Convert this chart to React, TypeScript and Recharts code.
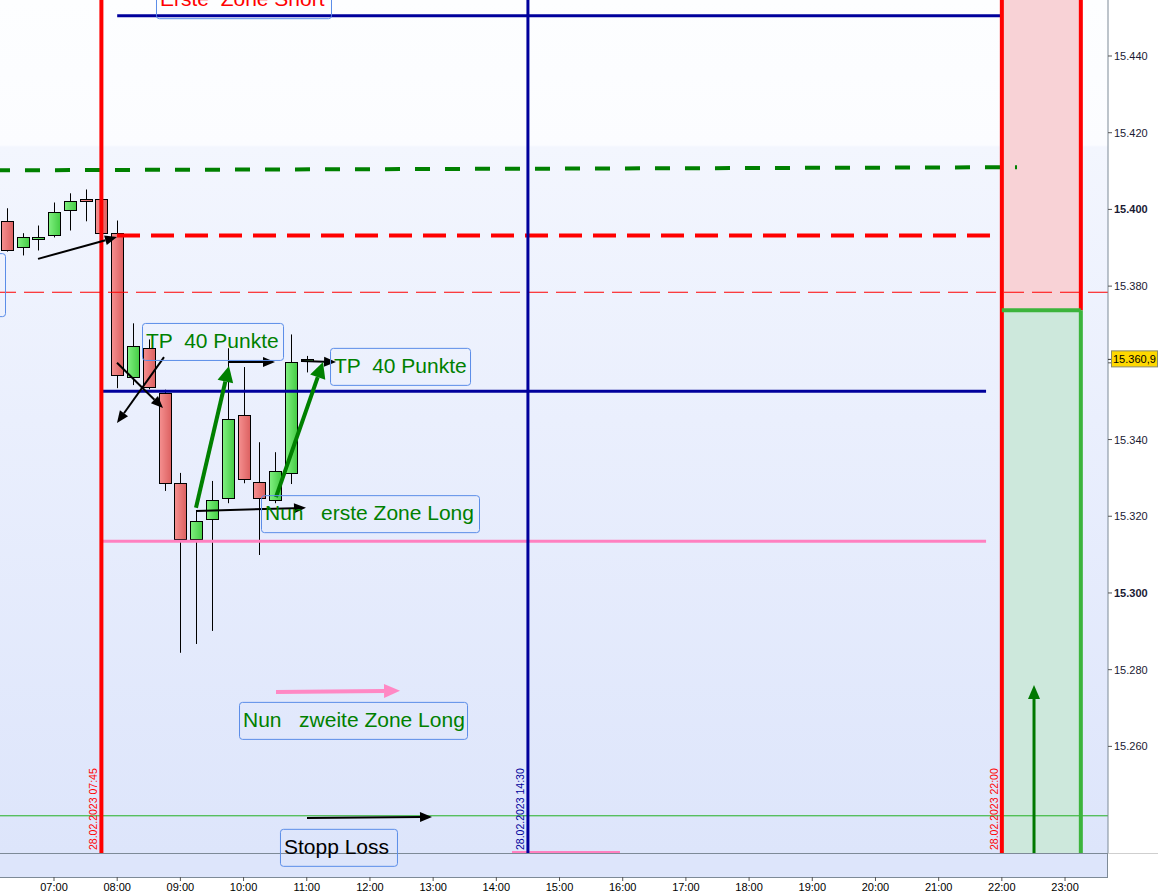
import React from 'react'
import {
  ComposedChart,
  Bar,
  XAxis,
  YAxis,
  ReferenceLine,
  ReferenceArea,
  ReferenceDot,
} from 'recharts'

const hm = (s: string) => {
  const [h, m] = s.split(':').map(Number)
  return h + m / 60
}

// DAX 15-min candles, 28.02.2023
const candleTimes = [
  '06:15', '06:30', '06:45', '07:00', '07:15', '07:30', '07:45', '08:00', '08:15', '08:30',
  '08:45', '09:00', '09:15', '09:30', '09:45', '10:00', '10:15', '10:30', '10:45', '11:00',
]
const opens = [
  15397.1, 15390.1, 15392.2, 15393.2, 15399.7, 15402.6, 15402.6, 15393.8, 15356.3, 15363.8,
  15352.1, 15328.6, 15314.1, 15319.3, 15324.7, 15346.4, 15328.9, 15324.2, 15331.3, 15360.5,
]
const highs = [
  15400.3, 15393.8, 15395.8, 15401.8, 15404.2, 15405.2, 15403.0, 15397.1, 15370.3, 15366.1,
  15353.0, 15331.3, 15321.6, 15329.2, 15363.8, 15358.9, 15339.3, 15336.7, 15367.4, 15361.8,
]
const lows = [
  15389.0, 15388.0, 15389.3, 15392.7, 15394.5, 15396.9, 15393.5, 15353.4, 15354.2, 15353.1,
  15326.6, 15284.4, 15286.7, 15290.1, 15323.4, 15328.6, 15309.9, 15323.4, 15328.4, 15357.5,
]
const closes = [
  15389.6, 15392.7, 15392.7, 15399.2, 15402.1, 15402.1, 15393.8, 15356.8, 15364.3, 15353.6,
  15328.6, 15314.1, 15318.8, 15324.2, 15345.3, 15329.7, 15324.7, 15331.8, 15360.2, 15360.9,
]

const xTicks = [7, 8, 9, 10, 11, 12, 13, 14, 15, 16, 17, 18, 19, 20, 21, 22, 23]
const yTicks = [15260, 15280, 15300, 15320, 15340, 15360, 15380, 15400, 15420, 15440]
const boldTicks = [15300, 15400]
const lastPrice = 15360.9

const xDomain = [6.1454, 23.6798]
const yDomain = [15232.2, 15454.6]

// levels
const shortZoneTop = 15450.5
const greenDashed = [15410.2, 15411.0]
const redDashed = 15393.2
const thinRed = 15378.4
const navyLevel = 15352.6
const pinkLevel = 15313.5
const stopLevel = 15241.9
const boxSplit = 15373.7

// session marks
const markTimes = ['07:45', '14:30', '22:00']
const boxEnd = '23:15'

// arrows: [t1, p1, t2, p2]
const blackArrows = [
  [6.747, 15387.1, 7.997, 15392.8],
  [7.997, 15360.0, 8.725, 15348.2],
  [8.741, 15361.5, 7.997, 15344.3],
  [9.753, 15360.2, 10.497, 15360.2],
  [10.925, 15360.5, 11.463, 15360.2],
  [9.247, 15321.4, 10.988, 15322.2],
  [11.004, 15241.3, 12.982, 15241.6],
]
const greenArrows = [
  [9.247, 15322.2, 9.769, 15359.2],
  [10.513, 15325.0, 11.257, 15360.2],
]
const pinkArrow = [10.513, 15274.2, 12.476, 15274.5]
const upArrow = [22.509, 15232.2, 22.509, 15276.0]

// text boxes: top-left corner
const noteTexts = ['Erste  Zone Short', 'TP  40 Punkte', 'TP  40 Punkte', 'Nun   erste Zone Long', 'Nun   zweite Zone Long', 'Stopp Loss']
const noteTimes = [8.614, 8.393, 11.368, 10.276, 9.928, 10.576]
const notePrices = [15459.5, 15370.4, 15363.9, 15325.5, 15271.6, 15238.5]
const noteWidths = [175, 141, 140, 218, 228, 117]
const noteColors = ['#ff0000', '#008000', '#008000', '#008000', '#008000', '#000000']

const candles = candleTimes.map((t, i) => ({
  t: hm(t),
  open: opens[i],
  high: highs[i],
  low: lows[i],
  close: closes[i],
}))

const FONT = "'Liberation Sans', Arial, sans-serif"

const Candle = (p: any) => {
  const { x, y, width, height, payload } = p
  const { open, close, high, low } = payload
  const top = Math.min(y, y + height)
  const h = Math.abs(height)
  const k = h / (high - low)
  const yO = top + (high - open) * k
  const yC = top + (high - close) * k
  const up = close >= open
  const cx = Math.round(x + width / 2) + 0.5
  const bt = Math.round(Math.min(yO, yC)) + 0.5
  const bh = Math.max(1, Math.round(Math.abs(yO - yC)))
  return (
    <g>
      <defs>
        <linearGradient id="candleUp" x1="0" y1="0" x2="1" y2="0">
          <stop offset="0%" stopColor="#80f080" />
          <stop offset="100%" stopColor="#44cc44" />
        </linearGradient>
        <linearGradient id="candleDown" x1="0" y1="0" x2="1" y2="0">
          <stop offset="0%" stopColor="#f59090" />
          <stop offset="100%" stopColor="#dc6060" />
        </linearGradient>
      </defs>
      <line x1={cx} x2={cx} y1={top} y2={top + h} stroke="#000" strokeWidth={1} />
      <rect
        x={cx - 6}
        y={bt}
        width={12}
        height={bh}
        fill={up ? 'url(#candleUp)' : 'url(#candleDown)'}
        stroke="#000"
        strokeWidth={1}
      />
    </g>
  )
}

const arrow = (color: string, width: number, len: number, half: number) => (p: any) => {
  const { x1, y1, x2, y2 } = p
  const a = Math.atan2(y2 - y1, x2 - x1)
  const bx = x2 - len * Math.cos(a)
  const by = y2 - len * Math.sin(a)
  const nx = -Math.sin(a) * half
  const ny = Math.cos(a) * half
  return (
    <g>
      <line x1={x1} y1={y1} x2={bx} y2={by} stroke={color} strokeWidth={width} />
      <polygon points={`${x2},${y2} ${bx + nx},${by + ny} ${bx - nx},${by - ny}`} fill={color} />
    </g>
  )
}

const noteShape = (text: string, w: number, color: string, h = 37) => (p: any) => (
  <g>
    <rect x={p.cx + 0.5} y={p.cy + 0.5} width={w} height={h} rx={3} fill="none" stroke="#5b8de8" strokeWidth={1} />
    <text x={p.cx + 4} y={p.cy + 25} fontSize={21} fontFamily={FONT} fill={color} style={{ whiteSpace: 'pre' }}>
      {text}
    </text>
  </g>
)

const dateLabel = (text: string, color: string) => (p: any) => (
  <text
    x={0}
    y={0}
    transform={`translate(${p.cx - 4},${p.cy - 3}) rotate(-90)`}
    fontSize={10.5}
    fontFamily={FONT}
    fill={color}
  >
    {text}
  </text>
)

const PriceTag = (p: any) => (
  <g>
    <line x1={p.cx} x2={p.cx + 4} y1={p.cy} y2={p.cy} stroke="#333" />
    <rect x={p.cx + 3.5} y={p.cy - 8.5} width={46} height={16} fill="#ffd800" stroke="#8a8a6a" />
    <text x={p.cx + 5} y={p.cy + 4} fontSize={11} fontFamily={FONT} fill="#000">
      15.360,9
    </text>
  </g>
)

const fmtPrice = (v: number) => {
  const s = String(v)
  return s.slice(0, 2) + '.' + s.slice(2)
}

const YTick = (p: any) => {
  const v = p.payload.value
  // the last-price tag covers this label
  if (Math.abs(v - lastPrice) < 5) return <g />
  return (
    <text
      x={p.x}
      y={p.y + 4}
      fontSize={11}
      fontWeight={boldTicks.includes(v) ? 'bold' : 'normal'}
      fontFamily={FONT}
      fill="#1a1a33"
      textAnchor="start"
    >
      {fmtPrice(v)}
    </text>
  )
}

const XTick = (p: any) => {
  const v = p.payload.value
  const label = String(v).padStart(2, '0') + ':00'
  return (
    <g>
      <line x1={p.x} x2={p.x} y1={p.y + 24} y2={p.y + 28} stroke="#555" />
      <text x={p.x} y={p.y + 38} fontSize={11} fontFamily={FONT} fill="#000" textAnchor="middle">
        {label}
      </text>
    </g>
  )
}

export default function App() {
  const red = '#ff0000'
  const navy = '#00009c'
  return (
    <div style={{ position: 'absolute', left: 0, top: 0, width: 1158, height: 895, background: '#fff' }}>
      <div
        style={{
          position: 'absolute',
          left: 0,
          top: 0,
          width: 1108,
          height: 853,
          background:
            'linear-gradient(to bottom, #fdfeff 0px, #fbfcff 145px, #f3f6fe 147px, #eaeffd 420px, #dde5fb 853px)',
        }}
      />
      <div
        style={{
          position: 'absolute',
          left: 0,
          top: 853,
          width: 1107,
          height: 23,
          background: '#dde5fb',
          borderTop: '1px solid #7d8a97',
          borderBottom: '1px solid #7d8a97',
          borderRight: '1px solid #7d8a97',
        }}
      />
      <div style={{ position: 'absolute', left: 1108, top: 853, width: 50, borderTop: '1px solid #cfcfcf' }} />
      <div style={{ position: 'absolute', left: 0, top: 0 }}>
        <ComposedChart width={1158} height={895} data={candles} margin={{ top: 0, right: 0, bottom: 0, left: 0 }}>
          <XAxis
            dataKey="t"
            type="number"
            domain={xDomain}
            ticks={xTicks}
            interval={0}
            allowDataOverflow
            height={42}
            axisLine={false}
            tickLine={false}
            tickSize={0}
            tickMargin={0}
            tick={<XTick />}
          />
          <YAxis
            orientation="right"
            type="number"
            domain={yDomain}
            ticks={yTicks}
            interval={0}
            allowDataOverflow
            width={50}
            tickSize={4}
            tickMargin={2}
            axisLine={{ stroke: '#7d8a97' }}
            tickLine={{ stroke: '#555' }}
            tick={<YTick />}
          />

          <ReferenceArea x1={hm('22:00')} x2={hm(boxEnd)} y1={boxSplit} y2={yDomain[1]} fill="#f8d2d6" fillOpacity={1} stroke="none" ifOverflow="hidden" />
          <ReferenceArea x1={hm('22:00')} x2={hm(boxEnd)} y1={yDomain[0]} y2={boxSplit} fill="#cde8dc" fillOpacity={1} stroke="none" ifOverflow="hidden" />

          <Bar dataKey={(d: any) => [d.low, d.high]} barSize={12} shape={<Candle />} isAnimationActive={false} />

          <ReferenceLine y={thinRed} stroke={red} strokeWidth={1} strokeDasharray="20 8" />
          <ReferenceLine y={stopLevel} stroke="#22b022" strokeWidth={1} />
          <ReferenceLine
            segment={[{ x: xDomain[0], y: greenDashed[0] }, { x: 22.24, y: greenDashed[1] }]}
            stroke="#008000"
            strokeWidth={4}
            strokeDasharray="15 15"
            strokeDashoffset={5}
            ifOverflow="hidden"
          />
          <ReferenceLine
            segment={[{ x: 7.997, y: redDashed }, { x: 21.812, y: redDashed }]}
            stroke={red}
            strokeWidth={4}
            strokeDasharray="23 11"
            ifOverflow="hidden"
          />
          <ReferenceLine
            segment={[{ x: hm('08:00'), y: shortZoneTop }, { x: hm('22:00'), y: shortZoneTop }]}
            stroke={navy}
            strokeWidth={3}
            ifOverflow="hidden"
          />
          <ReferenceLine
            segment={[{ x: hm('07:45'), y: navyLevel }, { x: hm('21:45'), y: navyLevel }]}
            stroke={navy}
            strokeWidth={3}
            ifOverflow="hidden"
          />
          <ReferenceLine
            segment={[{ x: hm('07:45'), y: pinkLevel }, { x: hm('21:45'), y: pinkLevel }]}
            stroke="#ff80c0"
            strokeWidth={3}
            ifOverflow="hidden"
          />
          <ReferenceLine
            segment={[{ x: 14.248, y: yDomain[0] }, { x: 15.957, y: yDomain[0] }]}
            stroke="#ff80c0"
            strokeWidth={4}
            ifOverflow="hidden"
          />

          <ReferenceLine x={hm(markTimes[0])} stroke={red} strokeWidth={4} />
          <ReferenceLine x={hm(markTimes[1])} stroke={navy} strokeWidth={3} />
          <ReferenceLine x={hm(markTimes[2])} stroke={red} strokeWidth={4} />
          <ReferenceLine
            segment={[{ x: hm(boxEnd), y: yDomain[1] }, { x: hm(boxEnd), y: boxSplit }]}
            stroke={red}
            strokeWidth={4}
            ifOverflow="hidden"
          />
          <ReferenceLine
            segment={[{ x: hm(boxEnd), y: boxSplit }, { x: hm(boxEnd), y: yDomain[0] }]}
            stroke="#3cb43c"
            strokeWidth={4}
            ifOverflow="hidden"
          />
          <ReferenceLine
            segment={[{ x: hm('22:00'), y: boxSplit }, { x: hm(boxEnd), y: boxSplit }]}
            stroke="#3cb43c"
            strokeWidth={4}
            ifOverflow="hidden"
          />

          {blackArrows.map((a, i) => (
            <ReferenceLine
              key={'b' + i}
              segment={[{ x: a[0], y: a[1] }, { x: a[2], y: a[3] }]}
              stroke="#000"
              ifOverflow="visible"
              shape={arrow('#000', 2, 12, 5)}
            />
          ))}
          {greenArrows.map((a, i) => (
            <ReferenceLine
              key={'g' + i}
              segment={[{ x: a[0], y: a[1] }, { x: a[2], y: a[3] }]}
              stroke="#008000"
              ifOverflow="visible"
              shape={arrow('#008000', 4, 16, 8)}
            />
          ))}
          <ReferenceLine
            segment={[{ x: pinkArrow[0], y: pinkArrow[1] }, { x: pinkArrow[2], y: pinkArrow[3] }]}
            stroke="#ff88c4"
            ifOverflow="visible"
            shape={arrow('#ff88c4', 4, 16, 7)}
          />
          <ReferenceLine
            segment={[{ x: upArrow[0], y: upArrow[1] }, { x: upArrow[2], y: upArrow[3] }]}
            stroke="#007800"
            ifOverflow="visible"
            shape={arrow('#007800', 3, 14, 6)}
          />

          {noteTexts.map((s, i) => (
            <ReferenceDot
              key={'n' + i}
              x={noteTimes[i]}
              y={notePrices[i]}
              ifOverflow="hidden"
              shape={noteShape(s, noteWidths[i], noteColors[i])}
            />
          ))}
          <ReferenceDot
            x={xDomain[0]}
            y={15388.6}
            ifOverflow="hidden"
            shape={(p: any) => (
              <rect x={p.cx - 110.5} y={p.cy + 0.5} width={116} height={63} rx={3} fill="none" stroke="#5b8de8" />
            )}
          />

          <ReferenceDot x={hm(markTimes[0])} y={yDomain[0]} ifOverflow="visible" shape={dateLabel('28.02.2023 07:45', red)} />
          <ReferenceDot x={hm(markTimes[1])} y={yDomain[0]} ifOverflow="visible" shape={dateLabel('28.02.2023 14:30', navy)} />
          <ReferenceDot x={hm(markTimes[2])} y={yDomain[0]} ifOverflow="visible" shape={dateLabel('28.02.2023 22:00', red)} />

          <ReferenceDot x={xDomain[1]} y={lastPrice} ifOverflow="visible" shape={<PriceTag />} />
        </ComposedChart>
      </div>
    </div>
  )
}
